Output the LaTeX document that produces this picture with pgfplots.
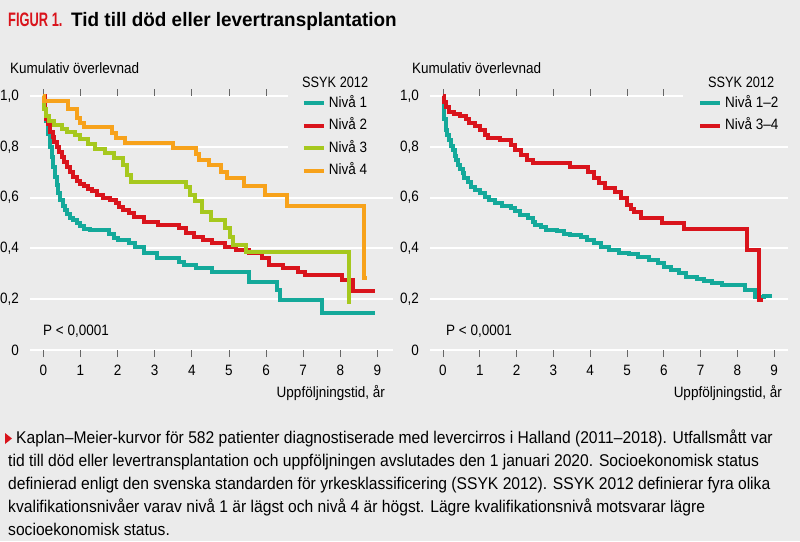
\documentclass[border=0pt]{standalone}
\usepackage{pgfplots}
\pgfplotsset{compat=1.18}
\usepackage{fontspec}
\setmainfont{Liberation Sans}[FakeStretch=0.9]
\newfontfamily\titlefont{Liberation Sans}[FakeStretch=0.97]
\newfontfamily\figfont{Liberation Sans}[FakeStretch=0.66]
\newfontfamily\capfont{Liberation Sans}[FakeStretch=0.92]
\newfontfamily\narrowfont{Liberation Sans}[FakeStretch=0.85]
\definecolor{bg}{HTML}{EBEBEB}
\definecolor{teal1}{HTML}{14A99A}
\definecolor{red2}{HTML}{D9141C}
\definecolor{lime3}{HTML}{A6C81E}
\definecolor{orange4}{HTML}{F7A21B}
\definecolor{tickgray}{HTML}{666666}

\pgfplotsset{
  km/.style={
    scale only axis, height=254pt, ymin=0, ymax=1,
    axis line style={draw=none},
    ytick={0,0.2,0.4,0.6,0.8,1},
    yticklabels={0,{0,2},{0,4},{0,6},{0,8},{1,0}},
    xtick={0,...,9},
    xticklabels={0,1,2,3,4,5,6,7,8,9},
    ymajorgrids, grid style={white, line width=2pt},
    ytick style={draw=none},
    xtick style={draw=tickgray, line width=0.8pt},
    tick align=outside, major tick length=7pt,
    ticklabel style={font=\fontsize{15}{17}\selectfont, inner sep=0pt},
    yticklabel style={xshift=-4pt},
    xticklabel style={yshift=-8pt},
    clip=false,
    every axis plot/.append style={const plot, line width=4pt, no marks},
    legend image code/.code={\draw[#1, line width=4pt] (0pt,0pt) -- (20pt,0pt);},
    legend style={draw=none, fill=none, anchor=north west, inner sep=0pt, outer sep=0pt,
      row sep=8.5pt, column sep=3pt, font=\fontsize{15}{17}\selectfont,
      nodes={inner sep=0pt, text height=11pt, text depth=3pt}},
    legend cell align=left,
  }
}

\begin{document}
\begin{tikzpicture}
\fill[bg] (0pt,0pt) rectangle (800pt,-541pt);

% title
\node[anchor=base west, inner sep=0pt, text=red2] at (8pt,-26pt)
  {\figfont\bfseries\fontsize{19.5}{20}\selectfont FIGUR 1.};
\node[anchor=base west, inner sep=0pt] at (71pt,-26pt)
  {\titlefont\bfseries\fontsize{19.5}{20}\selectfont Tid till död eller levertransplantation};

% left panel
\begin{axis}[km, at={(30pt,-350pt)}, anchor=south west, width=363pt,
  xmin=-0.36, xmax=9.42, legend style={at={(0.749,1.0)}}]
\fill[bg] (axis cs:6.6,0.66) rectangle (axis cs:9.6,1.1);
\addplot[teal1] coordinates {
(0,1.0) (0.03,0.95) (0.08,0.90) (0.12,0.85) (0.17,0.80) (0.22,0.76) (0.27,0.72)
(0.32,0.68) (0.36,0.65) (0.40,0.62) (0.45,0.59) (0.52,0.565) (0.58,0.55) (0.65,0.535)
(0.72,0.52) (0.80,0.51) (0.90,0.50) (1.0,0.487) (1.1,0.478) (1.25,0.472) (1.78,0.455)
(1.9,0.44) (2.0,0.433) (2.3,0.42) (2.47,0.406) (2.7,0.38) (3.05,0.362) (3.65,0.347)
(3.8,0.335) (4.1,0.322) (4.55,0.307) (5.55,0.268) (6.3,0.236) (6.38,0.197) (7.5,0.145)
(8.94,0.145)};
\addlegendentry{Nivå 1}
\addplot[red2] coordinates {
(0,1.0) (0.04,0.95) (0.08,0.91) (0.12,0.89) (0.18,0.86) (0.25,0.84) (0.3,0.82)
(0.36,0.80) (0.42,0.78) (0.5,0.76) (0.56,0.74) (0.63,0.72) (0.72,0.70) (0.8,0.68)
(0.9,0.665) (1.0,0.655) (1.1,0.645) (1.2,0.635) (1.3,0.625) (1.44,0.61) (1.6,0.60)
(1.8,0.59) (1.95,0.578) (2.05,0.563) (2.15,0.55) (2.3,0.538) (2.45,0.522) (2.7,0.505)
(3.1,0.492) (3.65,0.48) (3.85,0.46) (4.05,0.445) (4.3,0.433) (4.55,0.42) (4.9,0.406)
(5.2,0.394) (5.55,0.38) (5.9,0.362) (6.08,0.335) (6.45,0.322) (6.85,0.307) (7.05,0.295)
(8.05,0.276) (8.35,0.233) (8.94,0.233)};
\addlegendentry{Nivå 2}
\addplot[lime3] coordinates {
(0,1.0) (0.03,0.95) (0.08,0.92) (0.15,0.90) (0.3,0.885) (0.5,0.87) (0.65,0.86)
(0.85,0.845) (1.0,0.83) (1.2,0.81) (1.4,0.79) (1.65,0.775) (1.9,0.755) (2.15,0.73)
(2.25,0.69) (2.35,0.66) (3.85,0.64) (3.95,0.61) (4.08,0.585) (4.28,0.545) (4.52,0.512)
(4.9,0.48) (5.02,0.445) (5.12,0.413) (5.45,0.387) (8.24,0.19) (8.28,0.19)};
\addlegendentry{Nivå 3}
\addplot[orange4] coordinates {
(0,1.0) (0.02,0.98) (0.67,0.95) (0.9,0.915) (1.0,0.895) (1.1,0.877) (1.85,0.855)
(1.95,0.835) (2.2,0.815) (3.5,0.795) (4.1,0.77) (4.2,0.75) (4.45,0.73) (4.78,0.70)
(4.95,0.677) (5.4,0.645) (5.97,0.61) (6.56,0.567) (8.63,0.283) (8.72,0.283)};
\addlegendentry{Nivå 4}
\end{axis}

% right panel
\begin{axis}[km, at={(430pt,-350pt)}, anchor=south west, width=358pt,
  xmin=-0.353, xmax=9.375, legend style={at={(0.749,1.0)}}]
\fill[bg] (axis cs:6.52,0.86) rectangle (axis cs:9.6,1.1);
\addplot[teal1] coordinates {
(0,1.0) (0.02,0.95) (0.04,0.91) (0.08,0.866) (0.12,0.845) (0.17,0.827) (0.22,0.805)
(0.27,0.787) (0.32,0.765) (0.36,0.748) (0.42,0.73) (0.47,0.713) (0.53,0.695) (0.58,0.677)
(0.67,0.66) (0.77,0.642) (0.88,0.63) (1.0,0.618) (1.13,0.603) (1.26,0.59) (1.4,0.578)
(1.6,0.567) (1.85,0.56) (1.95,0.548) (2.08,0.531) (2.3,0.52) (2.45,0.503) (2.5,0.492)
(2.66,0.485) (2.8,0.472) (3.1,0.468) (3.3,0.458) (3.45,0.453) (3.75,0.445) (3.9,0.433)
(4.1,0.42) (4.3,0.406) (4.5,0.394) (4.77,0.383) (5.05,0.377) (5.3,0.367) (5.6,0.354)
(5.85,0.341) (6.0,0.328) (6.2,0.315) (6.4,0.302) (6.6,0.286) (6.9,0.28) (7.1,0.273)
(7.3,0.265) (7.57,0.255) (8.2,0.236) (8.47,0.209) (8.72,0.213) (8.94,0.213)};
\addlegendentry{Nivå 1–2}
\addplot[red2] coordinates {
(0,1.0) (0.04,0.975) (0.08,0.957) (0.17,0.937) (0.3,0.93) (0.45,0.922) (0.63,0.91)
(0.72,0.894) (0.86,0.88) (1.0,0.866) (1.13,0.846) (1.22,0.835) (1.54,0.827) (1.86,0.807)
(1.95,0.787) (2.13,0.768) (2.27,0.748) (2.45,0.736) (3.45,0.72) (3.95,0.70) (4.1,0.677)
(4.25,0.657) (4.4,0.638) (4.68,0.622) (4.85,0.598) (5.0,0.571) (5.12,0.555) (5.18,0.543)
(5.38,0.52) (5.95,0.5) (6.56,0.476) (8.26,0.394) (8.6,0.197) (8.7,0.197)};
\addlegendentry{Nivå 3–4}
\end{axis}

% panel texts
\begin{scope}[every node/.style={inner sep=0pt, font=\fontsize{15}{17}\selectfont}]
\node[anchor=base west] at (10pt,-73pt) {Kumulativ överlevnad};
\node[anchor=base west] at (412pt,-73pt) {Kumulativ överlevnad};
\node[anchor=base west] at (302pt,-87pt) {\narrowfont SSYK 2012};
\node[anchor=base west] at (708pt,-87pt) {\narrowfont SSYK 2012};
\node[anchor=base west] at (43pt,-335pt) {P < 0,0001};
\node[anchor=base west] at (446pt,-335pt) {P < 0,0001};
\node[anchor=base east] at (385pt,-397pt) {Uppföljningstid, år};
\node[anchor=base east] at (782pt,-397pt) {Uppföljningstid, år};
\end{scope}

% caption
\fill[red2] (5pt,-433pt) -- (12pt,-438.5pt) -- (5pt,-444pt) -- cycle;
\begin{scope}[every node/.style={inner sep=0pt, anchor=base west, font=\capfont\fontsize{17}{20}\selectfont}]
\node at (16pt,-443pt) {Kaplan–Meier-kurvor för 582 patienter diagnostiserade med levercirros i Halland (2011–2018). Utfallsmått var};
\node at (8pt,-466pt) {tid till död eller levertransplantation och uppföljningen avslutades den 1 januari 2020. Socioekonomisk status};
\node at (8pt,-489pt) {definierad enligt den svenska standarden för yrkesklassificering (SSYK 2012). SSYK 2012 definierar fyra olika};
\node at (8pt,-512pt) {kvalifikationsnivåer varav nivå 1 är lägst och nivå 4 är högst. Lägre kvalifikationsnivå motsvarar lägre};
\node at (8pt,-535pt) {socioekonomisk status.};
\end{scope}

\pgfresetboundingbox
\useasboundingbox (0pt,0pt) rectangle (800pt,-541pt);
\end{tikzpicture}
\end{document}
